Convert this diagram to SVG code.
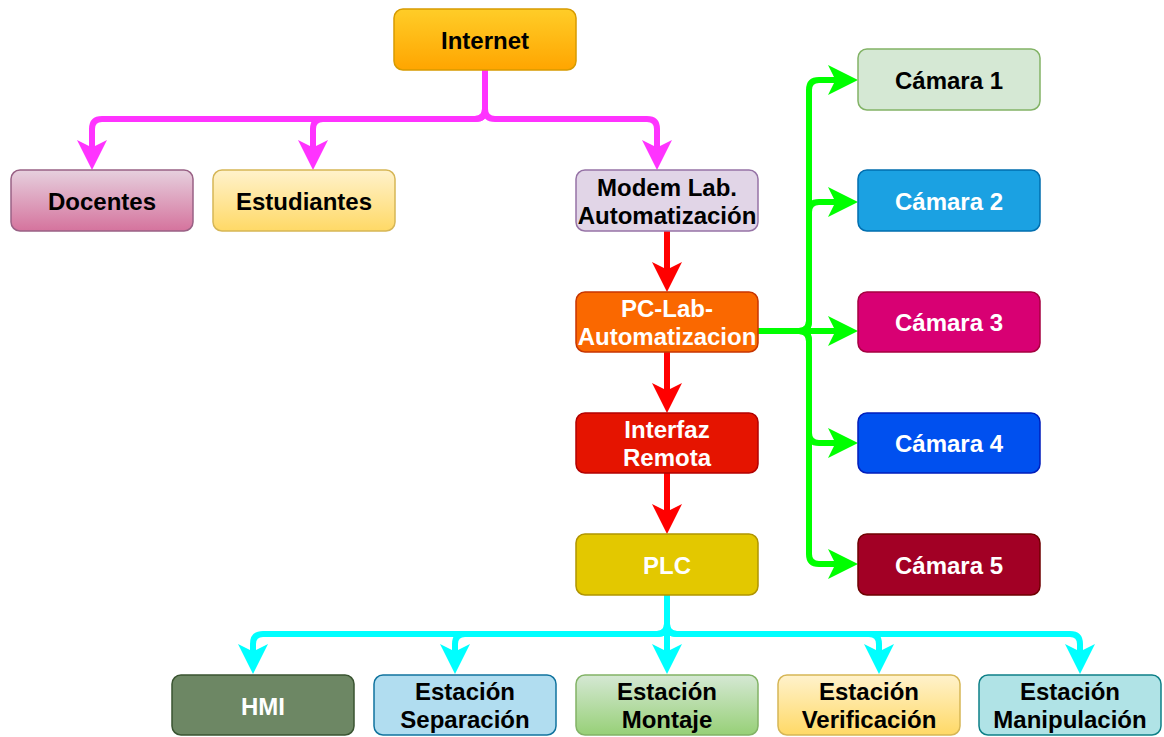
<svg xmlns="http://www.w3.org/2000/svg" width="1164" height="737" viewBox="0 0 1164 737">
  <style>
    .box { stroke-width: 1.5; }
    .lbl { font-family: "Liberation Sans", Arial, Helvetica, sans-serif; font-weight: bold; font-size: 24px; text-anchor: middle; }
    .dark { fill: #000000; }
    .light { fill: #ffffff; }
    .edge { fill: none; stroke-width: 6; stroke-linejoin: round; }
    .mag { stroke: #ff33ff; }
    .red { stroke: #ff0000; }
    .grn { stroke: #00ff00; }
    .cyn { stroke: #00ffff; }
  </style>
  <defs>
    <linearGradient id="gOrange" x1="0" y1="0" x2="0" y2="1">
      <stop offset="0" stop-color="#ffcd28"/>
      <stop offset="1" stop-color="#ffa500"/>
    </linearGradient>
    <linearGradient id="gPink" x1="0" y1="0" x2="0" y2="1">
      <stop offset="0" stop-color="#e6d0de"/>
      <stop offset="1" stop-color="#d5739d"/>
    </linearGradient>
    <linearGradient id="gYellow" x1="0" y1="0" x2="0" y2="1">
      <stop offset="0" stop-color="#fff2cc"/>
      <stop offset="1" stop-color="#ffd966"/>
    </linearGradient>
    <linearGradient id="gGreen" x1="0" y1="0" x2="0" y2="1">
      <stop offset="0" stop-color="#d5e8d4"/>
      <stop offset="1" stop-color="#97d077"/>
    </linearGradient>
    <marker id="aMag" markerUnits="userSpaceOnUse" viewBox="0 0 30 30" markerWidth="30" markerHeight="30" refX="10" refY="15" orient="auto">
      <path d="M30,15 L0,0 L7.5,15 L0,30 Z" fill="#ff33ff"/>
    </marker>
    <marker id="aRed" markerUnits="userSpaceOnUse" viewBox="0 0 30 30" markerWidth="30" markerHeight="30" refX="10" refY="15" orient="auto">
      <path d="M30,15 L0,0 L7.5,15 L0,30 Z" fill="#ff0000"/>
    </marker>
    <marker id="aGrn" markerUnits="userSpaceOnUse" viewBox="0 0 30 30" markerWidth="30" markerHeight="30" refX="10" refY="15" orient="auto">
      <path d="M30,15 L0,0 L7.5,15 L0,30 Z" fill="#00ff00"/>
    </marker>
    <marker id="aCyn" markerUnits="userSpaceOnUse" viewBox="0 0 30 30" markerWidth="30" markerHeight="30" refX="10" refY="15" orient="auto">
      <path d="M30,15 L0,0 L7.5,15 L0,30 Z" fill="#00ffff"/>
    </marker>
  </defs>

  <rect width="1164" height="737" fill="#ffffff"/>

  <!-- connectors -->
  <g id="connectors">
    <!-- Internet fan-out -->
    <path class="edge mag" marker-end="url(#aMag)" d="M485,70 V109 Q485,119 475,119 H102 Q92,119 92,129 V150"/>
    <path class="edge mag" marker-end="url(#aMag)" d="M485,70 V109 Q485,119 475,119 H323 Q313,119 313,129 V150"/>
    <path class="edge mag" marker-end="url(#aMag)" d="M485,70 V109 Q485,119 495,119 H647 Q657,119 657,129 V150"/>
    <!-- vertical chain -->
    <path class="edge red" marker-end="url(#aRed)" d="M667,231 V272"/>
    <path class="edge red" marker-end="url(#aRed)" d="M667,352 V393"/>
    <path class="edge red" marker-end="url(#aRed)" d="M667,473 V514"/>
    <!-- cameras -->
    <path class="edge grn" marker-end="url(#aGrn)" d="M758,331 H799 Q809,331 809,321 V90 Q809,80 819,80 H838"/>
    <path class="edge grn" marker-end="url(#aGrn)" d="M758,331 H799 Q809,331 809,321 V212 Q809,202 819,202 H838"/>
    <path class="edge grn" marker-end="url(#aGrn)" d="M758,331 H838"/>
    <path class="edge grn" marker-end="url(#aGrn)" d="M758,331 H799 Q809,331 809,341 V433 Q809,443 819,443 H838"/>
    <path class="edge grn" marker-end="url(#aGrn)" d="M758,331 H799 Q809,331 809,341 V554 Q809,564 819,564 H838"/>
    <!-- PLC fan-out -->
    <path class="edge cyn" marker-end="url(#aCyn)" d="M667,595 V624 Q667,634 657,634 H263 Q253,634 253,644 V654"/>
    <path class="edge cyn" marker-end="url(#aCyn)" d="M667,595 V624 Q667,634 657,634 H465 Q455,634 455,644 V654"/>
    <path class="edge cyn" marker-end="url(#aCyn)" d="M667,595 V654"/>
    <path class="edge cyn" marker-end="url(#aCyn)" d="M667,595 V624 Q667,634 677,634 H869 Q879,634 879,644 V654"/>
    <path class="edge cyn" marker-end="url(#aCyn)" d="M667,595 V624 Q667,634 677,634 H1070 Q1080,634 1080,644 V654"/>
  </g>

  <!-- nodes -->
  <g id="internet">
    <rect class="box" x="394" y="9" width="182" height="61" rx="9" fill="url(#gOrange)" stroke="#d79b00"/>
    <text class="lbl dark" x="485" y="49">Internet</text>
  </g>
  <g id="docentes">
    <rect class="box" x="11" y="170" width="182" height="61" rx="9" fill="url(#gPink)" stroke="#996185"/>
    <text class="lbl dark" x="102" y="210">Docentes</text>
  </g>
  <g id="estudiantes">
    <rect class="box" x="213" y="170" width="182" height="61" rx="9" fill="url(#gYellow)" stroke="#d6b656"/>
    <text class="lbl dark" x="304" y="210">Estudiantes</text>
  </g>
  <g id="modem">
    <rect class="box" x="576" y="170" width="182" height="61" rx="9" fill="#e1d5e7" stroke="#9673a6"/>
    <text class="lbl dark" x="667" y="196">Modem Lab.</text>
    <text class="lbl dark" x="667" y="224">Automatización</text>
  </g>
  <g id="pc-lab">
    <rect class="box" x="576" y="292" width="182" height="60" rx="9" fill="#fa6800" stroke="#c73500"/>
    <text class="lbl light" x="667" y="317">PC-Lab-</text>
    <text class="lbl light" x="667" y="345">Automatizacion</text>
  </g>
  <g id="interfaz">
    <rect class="box" x="576" y="413" width="182" height="60" rx="9" fill="#e51400" stroke="#b20000"/>
    <text class="lbl light" x="667" y="438">Interfaz</text>
    <text class="lbl light" x="667" y="466">Remota</text>
  </g>
  <g id="plc">
    <rect class="box" x="576" y="534" width="182" height="61" rx="9" fill="#e3c800" stroke="#b09500"/>
    <text class="lbl light" x="667" y="574">PLC</text>
  </g>
  <g id="camara1">
    <rect class="box" x="858" y="49" width="182" height="61" rx="9" fill="#d5e8d4" stroke="#82b366"/>
    <text class="lbl dark" x="949" y="89">Cámara 1</text>
  </g>
  <g id="camara2">
    <rect class="box" x="858" y="170" width="182" height="61" rx="9" fill="#1ba1e2" stroke="#006eaf"/>
    <text class="lbl light" x="949" y="210">Cámara 2</text>
  </g>
  <g id="camara3">
    <rect class="box" x="858" y="292" width="182" height="60" rx="9" fill="#d80073" stroke="#a50040"/>
    <text class="lbl light" x="949" y="331">Cámara 3</text>
  </g>
  <g id="camara4">
    <rect class="box" x="858" y="413" width="182" height="60" rx="9" fill="#0050ef" stroke="#001dbc"/>
    <text class="lbl light" x="949" y="452">Cámara 4</text>
  </g>
  <g id="camara5">
    <rect class="box" x="858" y="534" width="182" height="61" rx="9" fill="#a20025" stroke="#6f0000"/>
    <text class="lbl light" x="949" y="574">Cámara 5</text>
  </g>
  <g id="hmi">
    <rect class="box" x="172" y="675" width="182" height="60" rx="9" fill="#6d8764" stroke="#3a5431"/>
    <text class="lbl light" x="263" y="715">HMI</text>
  </g>
  <g id="separacion">
    <rect class="box" x="374" y="675" width="182" height="60" rx="9" fill="#b1ddf0" stroke="#10739e"/>
    <text class="lbl dark" x="465" y="700">Estación</text>
    <text class="lbl dark" x="465" y="728">Separación</text>
  </g>
  <g id="montaje">
    <rect class="box" x="576" y="675" width="182" height="60" rx="9" fill="url(#gGreen)" stroke="#82b366"/>
    <text class="lbl dark" x="667" y="700">Estación</text>
    <text class="lbl dark" x="667" y="728">Montaje</text>
  </g>
  <g id="verificacion">
    <rect class="box" x="778" y="675" width="182" height="60" rx="9" fill="url(#gYellow)" stroke="#d6b656"/>
    <text class="lbl dark" x="869" y="700">Estación</text>
    <text class="lbl dark" x="869" y="728">Verificación</text>
  </g>
  <g id="manipulacion">
    <rect class="box" x="979" y="675" width="182" height="60" rx="9" fill="#b0e3e6" stroke="#0e8088"/>
    <text class="lbl dark" x="1070" y="700">Estación</text>
    <text class="lbl dark" x="1070" y="728">Manipulación</text>
  </g>
</svg>
